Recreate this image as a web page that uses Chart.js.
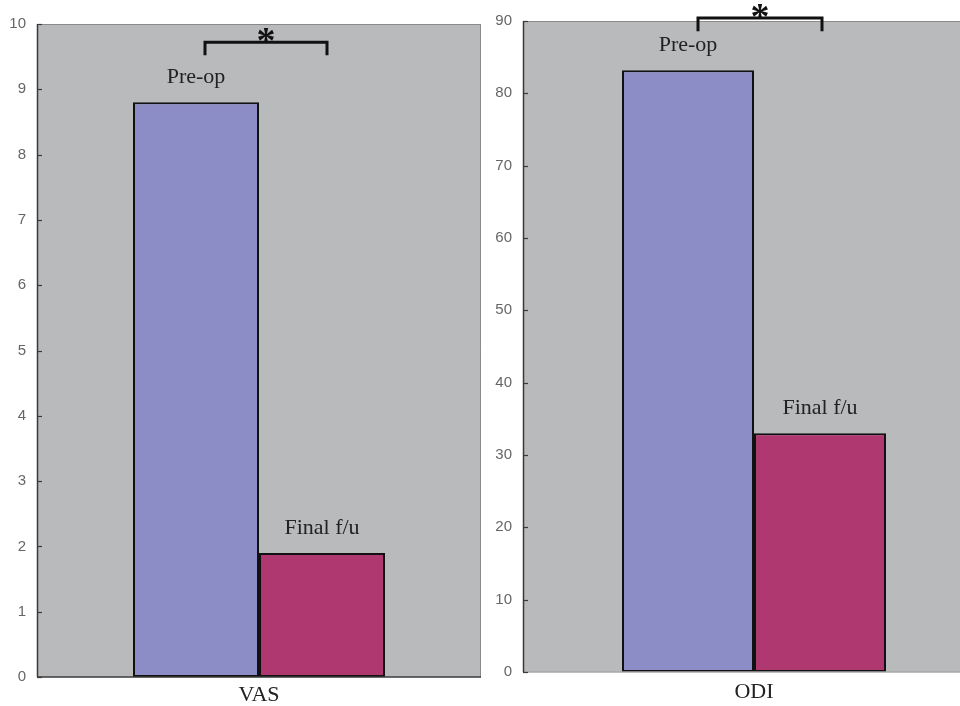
<!DOCTYPE html>
<html>
<head>
<meta charset="utf-8">
<script src="https://cdn.jsdelivr.net/npm/chart.js@4.4.1/dist/chart.umd.min.js"></script>
<style>
  html, body { margin: 0; padding: 0; background: #fff; overflow: hidden; }
  body { width: 960px; height: 706px; position: relative; }
  .box { position: absolute; top: 0; height: 706px; }
  #vasBox { left: 0; width: 482px; }
  #odiBox { left: 483px; width: 507px; }
</style>
</head>
<body>
<div class="box" id="vasBox"><canvas id="vasChart"></canvas></div>
<div class="box" id="odiBox"><canvas id="odiChart"></canvas></div>
<script>
// data
var seriesNames = ["Pre-op", "Final f/u"];
var vasCategories = ["VAS"];
var vasPre = [8.8];
var vasFinal = [1.9];
var vasTicks = [0, 1, 2, 3, 4, 5, 6, 7, 8, 9, 10];
var odiCategories = ["ODI"];
var odiPre = [83.2];
var odiFinal = [33.0];
var odiTicks = [0, 10, 20, 30, 40, 50, 60, 70, 80, 90];
// significance bracket: [line value, drop value]
var vasBracket = [9.72, 9.52];
var odiBracket = [90.4, 88.6];

var preColor = "#8c8cc6";
var finalColor = "#b03870";
var plotBg = "#b9babc";

function decorPlugin(bracket, offs, bottomColor) {
  return {
    id: "decor",
    beforeDraw: function (chart) {
      var a = chart.chartArea, ctx = chart.ctx;
      ctx.save();
      ctx.fillStyle = plotBg;
      ctx.fillRect(a.left, a.top, a.right - a.left, a.bottom - a.top);
      ctx.restore();
    },
    afterDraw: function (chart) {
      var a = chart.chartArea, ctx = chart.ctx;
      var ys = chart.scales.y;
      ctx.save();
      // frame
      ctx.lineWidth = 1;
      ctx.strokeStyle = "#8a8a8a";
      ctx.beginPath();
      ctx.moveTo(a.left, a.top + 0.5); ctx.lineTo(a.right, a.top + 0.5);
      ctx.moveTo(a.right - 0.5, a.top); ctx.lineTo(a.right - 0.5, a.bottom);
      ctx.stroke();
      ctx.lineWidth = 1.5;
      ctx.strokeStyle = bottomColor;
      ctx.beginPath();
      ctx.moveTo(a.left, a.bottom); ctx.lineTo(a.right, a.bottom);
      ctx.stroke();
      ctx.strokeStyle = "#3a3a3a";
      ctx.beginPath();
      ctx.moveTo(a.left + 0.5, a.top); ctx.lineTo(a.left + 0.5, a.bottom);
      ctx.stroke();
      // inward ticks
      ctx.lineWidth = 1.2;
      ys.ticks.forEach(function (t) {
        var y = Math.round(ys.getPixelForValue(t.value)) + 0.5;
        ctx.beginPath();
        ctx.moveTo(a.left, y); ctx.lineTo(a.left + 5, y);
        ctx.stroke();
      });
      // series labels above bars
      ctx.fillStyle = "#222";
      ctx.font = "22px 'Liberation Serif', 'DejaVu Serif', serif";
      ctx.textAlign = "center";
      ctx.textBaseline = "middle";
      chart.data.datasets.forEach(function (ds, i) {
        var bar = chart.getDatasetMeta(i).data[0];
        ctx.fillText(ds.label, bar.x, bar.y - 25);
      });
      // significance bracket
      var b0 = chart.getDatasetMeta(0).data[0];
      var b1 = chart.getDatasetMeta(1).data[0];
      var x1 = b0.x + offs[0], x2 = b1.x + offs[1];
      var yl = ys.getPixelForValue(bracket[0]);
      var yd = ys.getPixelForValue(bracket[1]);
      ctx.strokeStyle = "#111";
      ctx.lineWidth = 3;
      ctx.beginPath();
      ctx.moveTo(x1, yd); ctx.lineTo(x1, yl); ctx.lineTo(x2, yl); ctx.lineTo(x2, yd);
      ctx.stroke();
      ctx.fillStyle = "#111";
      ctx.font = "bold 38px 'Liberation Serif', serif";
      ctx.textBaseline = "alphabetic";
      ctx.fillText("*", (x1 + x2) / 2, yl + 11);
      ctx.restore();
    }
  };
}

function makeChart(id, cats, pre, fin, ticks, maxV, yWidth, xHeight, pad, xPad, catPct, bracket, offs, bottomColor) {
  return new Chart(document.getElementById(id), {
    type: "bar",
    data: {
      labels: cats,
      datasets: [
        { label: seriesNames[0], data: pre, backgroundColor: preColor, borderColor: "#111", borderWidth: 2, borderSkipped: false },
        { label: seriesNames[1], data: fin, backgroundColor: finalColor, borderColor: "#111", borderWidth: 2, borderSkipped: false }
      ]
    },
    options: {
      responsive: true,
      maintainAspectRatio: false,
      animation: false,
      layout: { padding: pad },
      datasets: { bar: { categoryPercentage: catPct, barPercentage: 1 } },
      plugins: { legend: { display: false }, tooltip: { enabled: false } },
      scales: {
        x: {
          grid: { display: false, drawTicks: false },
          border: { display: false },
          ticks: { padding: xPad, color: "#222", font: { family: "'Liberation Serif', serif", size: 22 } },
          afterFit: function (s) { s.height = xHeight; }
        },
        y: {
          min: 0, max: maxV,
          afterBuildTicks: function (s) { s.ticks = ticks.map(function (v) { return { value: v }; }); },
          grid: { display: false, drawTicks: false },
          border: { display: false },
          ticks: { padding: 11, color: "#666", font: { family: "'Liberation Sans', Arial, sans-serif", size: 15 } },
          afterFit: function (s) { s.width = yWidth; }
        }
      }
    },
    plugins: [decorPlugin(bracket, offs, bottomColor)]
  });
}

makeChart("vasChart", vasCategories, vasPre, vasFinal, vasTicks, 10, 37, 29,
  { top: 24, right: 1, left: 0, bottom: 0 }, 5, 252 / 444, vasBracket, [9, 5], "#3a3a3a");
makeChart("odiChart", odiCategories, odiPre, odiFinal, odiTicks, 90, 40, 34,
  { top: 21, right: 5, left: 0, bottom: 0 }, 7, 264 / 462, odiBracket, [10, 2], "#a8a9ab");
</script>
</body>
</html>
